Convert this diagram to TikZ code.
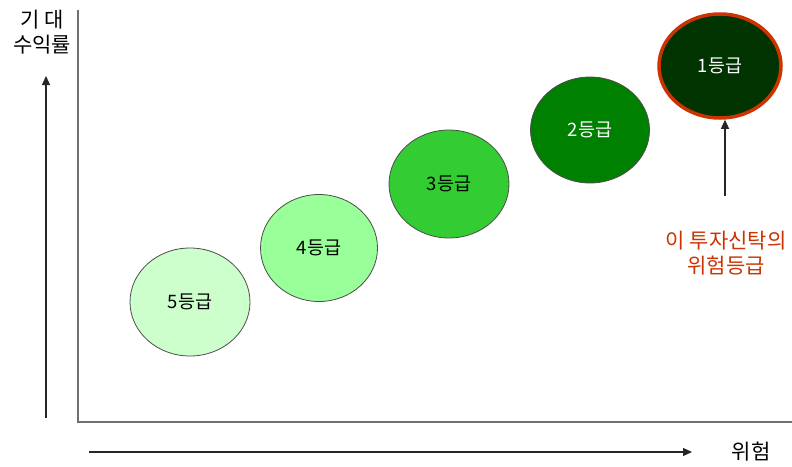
\documentclass[tikz,border=0pt]{standalone}
\usepackage{fontspec}
\setmainfont{Noto Sans CJK KR}
\usetikzlibrary{arrows.meta,shapes.geometric}
\definecolor{g5}{HTML}{CCFFCC}
\definecolor{g4}{HTML}{99FF99}
\definecolor{g3}{HTML}{33CC33}
\definecolor{g2}{HTML}{008000}
\definecolor{g1}{HTML}{003300}
\definecolor{ring}{HTML}{CC3300}
\definecolor{axisgray}{HTML}{707070}
\tikzset{
  grade/.style={ellipse, draw=black!70, line width=0.8pt, inner sep=0pt, font=\fontsize{18.5}{22}\selectfont},
  lbl/.style={font=\fontsize{21}{25.5}\selectfont, align=center, inner sep=0pt},
  arr/.style={-{Triangle[length=9pt,width=8pt]}, line width=1.2pt, black!85},
}
\begin{document}
\begin{tikzpicture}[x=1pt,y=-1pt]
\useasboundingbox (0,0) rectangle (792,466);
% axes frame
\coordinate (ytop) at (78,10);
\coordinate (origin) at (78,422);
\coordinate (xend) at (792,422);
\draw[axisgray, line width=2pt] (ytop) -- (origin) -- (xend);
% axis arrows
\coordinate (ya) at (46,418);
\coordinate (yb) at (46,76);
\draw[arr] (ya) -- (yb);
\coordinate (xa) at (89,452);
\coordinate (xb) at (692,452);
\draw[arr] (xa) -- (xb);
% axis labels
\node[lbl] (ylab) at (42,32) {기 대\\수익률};
\node[lbl] (xlab) at (751,452) {위험};
% grades
\node[grade, fill=g5, minimum width=120pt, minimum height=108pt] (c5) at (190,302) {5등급};
\node[grade, fill=g4, minimum width=117pt, minimum height=107pt] (c4) at (319,248) {4등급};
\node[grade, fill=g3, minimum width=120pt, minimum height=108pt] (c3) at (449,184) {3등급};
\node[grade, fill=g2, text=white, minimum width=119pt, minimum height=106pt] (c2) at (590,130) {2등급};
\node[grade, fill=g1, draw=ring, line width=3.5pt, text=white, minimum width=122pt, minimum height=104pt] (c1) at (720,66) {1등급};
% annotation
\node[lbl, text=ring] (note) at (726,253) {이 투자신탁의\\위험등급};
\coordinate (na) at (725,196);
\draw[arr] (na) -- (c1.south -| na);
\end{tikzpicture}
\end{document}
